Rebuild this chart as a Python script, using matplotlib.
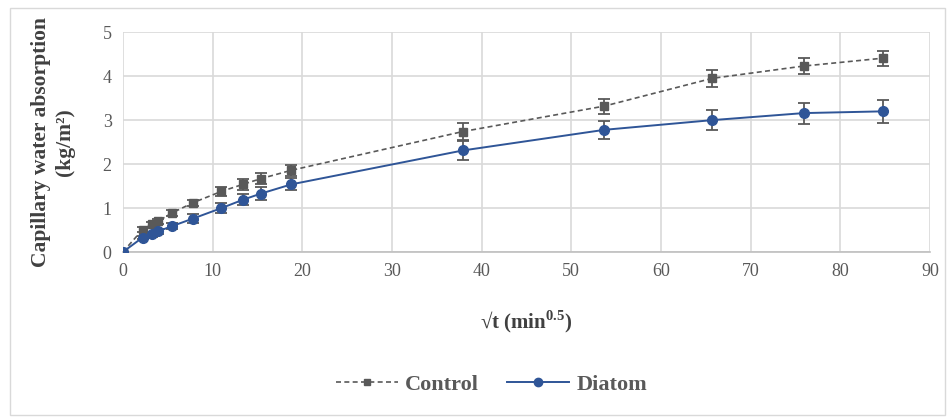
import matplotlib
matplotlib.use("Agg")
import matplotlib.pyplot as plt
from matplotlib.patches import Rectangle
from matplotlib.lines import Line2D

plt.rcParams['font.family'] = ['Liberation Serif', 'DejaVu Serif']
plt.rcParams['mathtext.fontset'] = 'custom'
plt.rcParams['mathtext.rm'] = 'Liberation Serif'
plt.rcParams['mathtext.bf'] = 'Liberation Serif:bold'

# square root of time (min^0.5)
sqrt_t = [0, 2.2, 3.2, 3.9, 5.5, 7.8, 11.0, 13.4, 15.4, 18.8, 37.9, 53.7, 65.7, 75.9, 84.8]
control = [0, 0.51, 0.63, 0.70, 0.89, 1.12, 1.38, 1.54, 1.67, 1.86, 2.74, 3.32, 3.95, 4.23, 4.41]
diatom = [0, 0.33, 0.40, 0.47, 0.59, 0.76, 1.00, 1.19, 1.33, 1.54, 2.31, 2.78, 3.00, 3.16, 3.20]
control_err = [0, 0.05, 0.05, 0.06, 0.06, 0.07, 0.11, 0.12, 0.13, 0.13, 0.20, 0.17, 0.20, 0.19, 0.17]
diatom_err = [0, 0.04, 0.05, 0.05, 0.06, 0.10, 0.12, 0.13, 0.14, 0.14, 0.21, 0.20, 0.22, 0.24, 0.26]

gray = '#595959'
blue = '#2F5597'

fig = plt.figure(figsize=(9.52, 4.18), dpi=100)
fig.patches.append(Rectangle((0.011, 0.007), 0.982, 0.975, transform=fig.transFigure,
                             fill=False, edgecolor='#d9d9d9', linewidth=1))
ax = fig.add_axes([0.129, 0.397, 0.848, 0.526])

ax.errorbar(sqrt_t, control, yerr=control_err, color=gray, ls=(0, (3, 2)), lw=1.2,
            marker='s', ms=6, ecolor=gray, elinewidth=1.3, capsize=4, capthick=1.3, zorder=3)
ax.errorbar(sqrt_t, diatom, yerr=diatom_err, color=blue, ls='-', lw=1.4,
            marker='o', ms=7, ecolor=gray, elinewidth=1.3, capsize=4, capthick=1.3, zorder=4)

ax.set_xlim(0, 90)
ax.set_ylim(0, 5)
ax.set_xticks(range(0, 91, 10))
ax.set_yticks(range(0, 6))
ax.grid(True, color='#d9d9d9', lw=1.2)
ax.set_axisbelow(True)
for s in ['top', 'right', 'left']:
    ax.spines[s].set_visible(False)
ax.spines['bottom'].set_color('#bfbfbf')
ax.spines['bottom'].set_linewidth(1.2)
ax.tick_params(length=0, labelsize=13, labelcolor=gray, pad=8)

ax.set_xlabel(r'√t (min$^{\mathbf{0.5}}$)', fontsize=15, fontweight='bold', color='#404040', labelpad=20)
ax.set_ylabel('Capillary water absorption\n(kg/m²)', fontsize=15.5, fontweight='bold',
              color='#404040', labelpad=20, linespacing=1.25)

handles = [Line2D([], [], color=gray, ls=(0, (3, 2)), lw=1.2, marker='s', ms=5),
           Line2D([], [], color=blue, ls='-', lw=1.4, marker='o', ms=6)]
fig.legend(handles, ['Control', 'Diatom'], loc='center', bbox_to_anchor=(0.516, 0.079),
           ncol=2, frameon=False, prop={'weight': 'bold', 'size': 16},
           labelcolor=gray, handlelength=2.8, columnspacing=1.3, handletextpad=0.3)

fig.savefig('out.png', dpi=100)
